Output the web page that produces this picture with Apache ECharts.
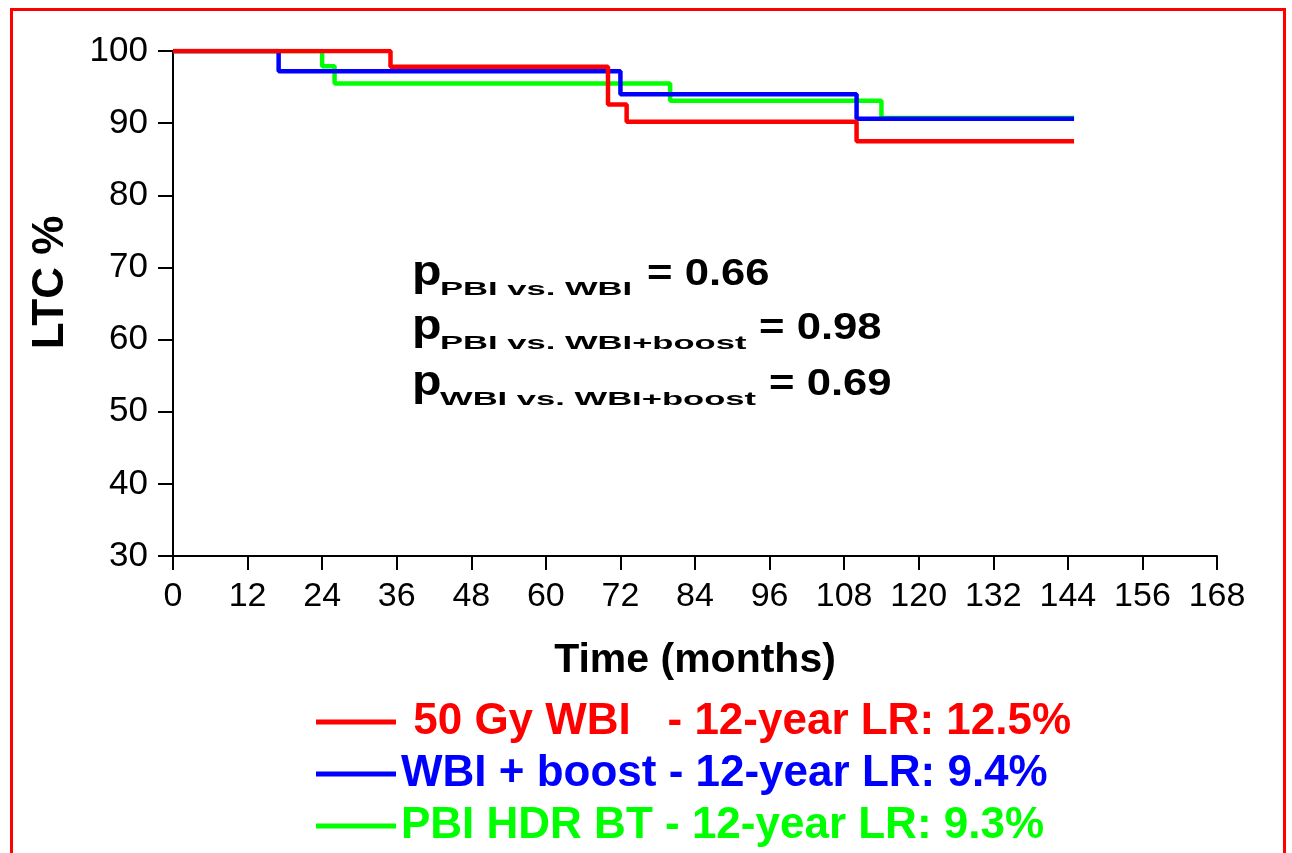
<!DOCTYPE html>
<html>
<head>
<meta charset="utf-8">
<script src="https://cdn.jsdelivr.net/npm/echarts@6/dist/echarts.min.js"></script>
<style>
  html, body { margin: 0; padding: 0; background: #fff; }
  #chart { width: 1292px; height: 853px; }
</style>
</head>
<body>
<div id="chart"></div>
<script>
// ---- Data (months, LTC %) ----
const redTimes   = [0, 35, 70, 73, 110, 145];
const redLTC     = [100, 97.8, 92.6, 90.2, 87.5, 87.5];
const blueTimes  = [0, 17, 72, 110, 145];
const blueLTC    = [100, 97.2, 94.0, 90.6, 90.6];
const greenTimes = [0, 24, 26, 80, 114, 145];
const greenLTC   = [100, 97.9, 95.5, 93.1, 90.7, 90.7];

const seriesNames = [
  ' 50 Gy WBI   - 12-year LR: 12.5%',
  'WBI + boost - 12-year LR: 9.4%',
  'PBI HDR BT - 12-year LR: 9.3%'
];
const seriesColors = ['#ff0000', '#0000ff', '#00ff00'];

const xMin = 0, xMax = 168, xStep = 12;
const yMin = 30, yMax = 100, yStep = 10;

const pSubs   = ['PBI vs. WBI', 'PBI vs. WBI+boost', 'WBI vs. WBI+boost'];
const pValues = ['0.66', '0.98', '0.69'];

const FONT = "'Liberation Sans', Arial, sans-serif";

function pairs(t, v) { return t.map((x, i) => [x, v[i]]); }

const chart = echarts.init(document.getElementById('chart'), null, { renderer: 'canvas' });

// annotation layout (pixel positions of the text block)
const annLines = [
  { mainY: 286.7, subY: 295.5, eqX: 647 },
  { mainY: 340.0, subY: 349.5, eqX: 759 },
  { mainY: 396.7, subY: 406.0, eqX: 769 }
];
const annGraphics = [];
annLines.forEach((ln, i) => {
  annGraphics.push({
    type: 'text', x: 412, y: ln.mainY - 0.31 * 42, scaleX: 1.15,
    style: { text: 'p', font: 'bold 42px ' + FONT, fill: '#000', align: 'left', verticalAlign: 'middle' }
  });
  annGraphics.push({
    type: 'text', x: 440, y: ln.subY - 0.31 * 19, scaleX: 1.82,
    style: { text: pSubs[i], font: 'bold 19px ' + FONT, fill: '#000', align: 'left', verticalAlign: 'middle' }
  });
  annGraphics.push({
    type: 'text', x: ln.eqX, y: ln.mainY - 0.31 * 37, scaleX: 1.18,
    style: { text: '= ' + pValues[i], font: 'bold 37px ' + FONT, fill: '#000', align: 'left', verticalAlign: 'middle' }
  });
});

const option = {
  backgroundColor: '#ffffff',
  animation: false,
  grid: { left: 173, right: 75, top: 51, bottom: 297, containLabel: false },
  xAxis: {
    type: 'value', min: xMin, max: xMax, interval: xStep,
    name: 'Time (months)', nameLocation: 'middle', nameGap: 84,
    nameTextStyle: { fontFamily: FONT, fontWeight: 'bold', fontSize: 41, color: '#000' },
    axisLine: { show: true, onZero: false, lineStyle: { color: '#000', width: 2 } },
    axisTick: { show: true, inside: false, length: 14, lineStyle: { color: '#000', width: 2 } },
    axisLabel: { fontFamily: FONT, fontSize: 34, color: '#000', margin: 24 },
    splitLine: { show: false }
  },
  yAxis: {
    type: 'value', min: yMin, max: yMax, interval: yStep,
    name: 'LTC %', nameLocation: 'middle', nameGap: 100, nameRotate: 90,
    nameTextStyle: { fontFamily: FONT, fontWeight: 'bold', fontSize: 44, color: '#000', padding: [0, 0, 0, 42] },
    axisLine: { show: true, onZero: false, lineStyle: { color: '#000', width: 2 } },
    axisTick: { show: true, inside: false, length: 15, lineStyle: { color: '#000', width: 2 } },
    axisLabel: { fontFamily: FONT, fontSize: 35, color: '#000', margin: 25 },
    splitLine: { show: false }
  },
  legend: {
    orient: 'vertical', left: 311, top: 695, height: 220, width: 900,
    itemWidth: 80, itemHeight: 5, itemGap: 8, icon: 'rect',
    selectedMode: false,
    textStyle: { fontFamily: FONT, fontWeight: 'bold', fontSize: 44 },
    data: seriesNames.map((n, i) => ({ name: n, textStyle: { color: seriesColors[i] } }))
  },
  series: [
    {
      name: seriesNames[2], type: 'line', step: 'end', showSymbol: false, symbol: 'none',
      data: pairs(greenTimes, greenLTC), lineStyle: { color: seriesColors[2], width: 4.5 },
      itemStyle: { color: seriesColors[2] }, z: 2
    },
    {
      name: seriesNames[1], type: 'line', step: 'end', showSymbol: false, symbol: 'none',
      data: pairs(blueTimes, blueLTC), lineStyle: { color: seriesColors[1], width: 4.5 },
      itemStyle: { color: seriesColors[1] }, z: 3
    },
    {
      name: seriesNames[0], type: 'line', step: 'end', showSymbol: false, symbol: 'none',
      data: pairs(redTimes, redLTC), lineStyle: { color: seriesColors[0], width: 4.5 },
      itemStyle: { color: seriesColors[0] }, z: 4
    }
  ],
  graphic: [
    {
      type: 'rect', silent: true, z: 0,
      shape: { x: 11.5, y: 9.5, width: 1273, height: 870 },
      style: { fill: 'none', stroke: '#ff0000', lineWidth: 3 }
    }
  ].concat(annGraphics)
};

chart.setOption(option);
</script>
</body>
</html>
